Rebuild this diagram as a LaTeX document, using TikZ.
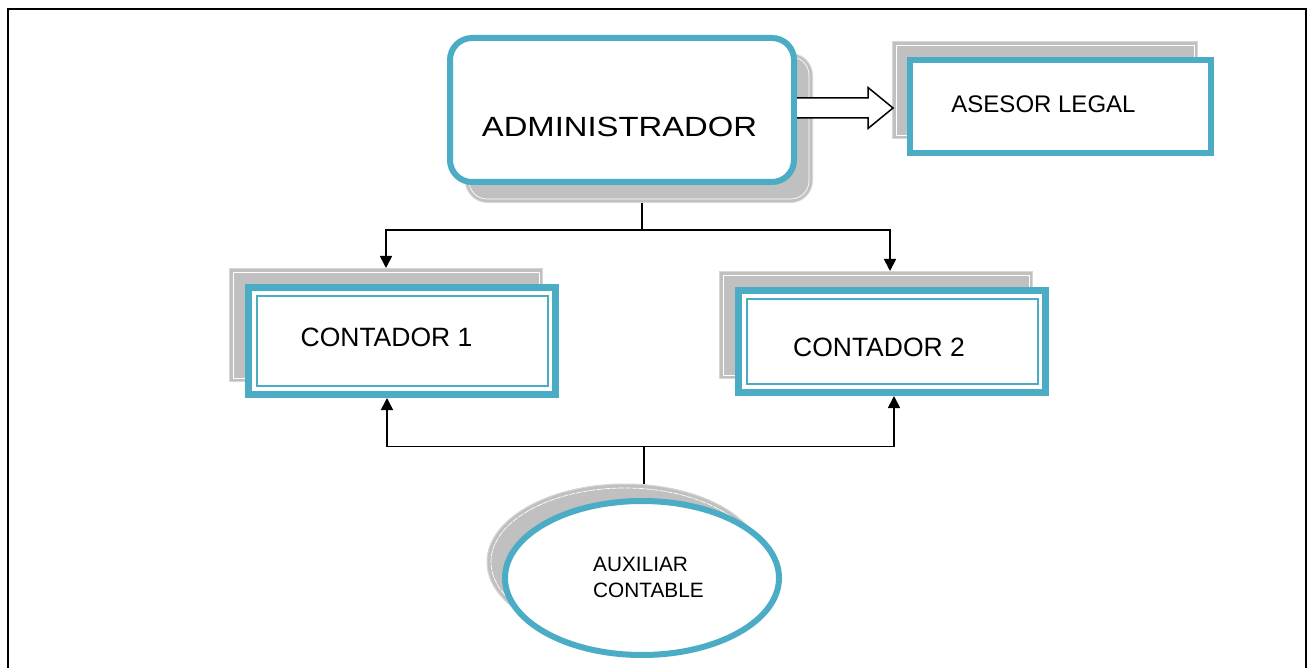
\documentclass[tikz,border=0pt]{standalone}
\usepackage{fontspec}
\usepackage{graphicx}
\setmainfont{Liberation Sans}
\usetikzlibrary{arrows.meta,calc,shapes.geometric}
\definecolor{accent}{HTML}{4BACC6}
\definecolor{shade}{HTML}{C0C0C0}
\definecolor{shadeedge}{HTML}{D6D6D6}

\tikzset{
  shadowbox/.style={draw=shadeedge, fill=shade, line width=1pt, inner sep=0pt},
  shadowline/.style={draw=white, line width=0.7pt},
  mainbox/.style={draw=accent, fill=white, line width=6pt, inner sep=0pt},
  countbox/.style={draw=accent, fill=white, line width=7pt, inner sep=0pt},
  innerline/.style={draw=accent, line width=2pt},
  label/.style={inner sep=0pt, font=\fontsize{26.5}{30}\selectfont},
  conn/.style={line width=1.7pt, -{Triangle[length=12pt,width=12pt]}},
  plain/.style={line width=1.7pt},
  blockarrow/.style={draw=black, fill=white, line width=1.5pt, line join=miter}
}

\begin{document}
\begin{tikzpicture}[x=1pt,y=-1pt]
\useasboundingbox (0,0) rectangle (1314,668);

% page frame
\draw[line width=2pt] (8,9.5) rectangle (1306,720);

% ---------- ADMINISTRADOR ----------
\node[shadowbox, rounded corners=22pt, minimum width=347pt, minimum height=149pt] (adminsh) at (639,128) {};
\draw[shadowline, rounded corners=18pt] ($(adminsh.north west)+(4,4)$) rectangle ($(adminsh.south east)+(-4,-4)$);
\node[mainbox, rounded corners=22pt, minimum width=344pt, minimum height=144pt] (admin) at (622,110) {};
\node[inner sep=0pt, font=\fontsize{27.8}{30}\selectfont] (admintxt) at (619.5,127) {\scalebox{1.18}[1]{ADMINISTRADOR}};

% ---------- ASESOR LEGAL ----------
\node[shadowbox, minimum width=305pt, minimum height=97pt] (asesorsh) at (1045,90) {};
\draw[shadowline] ($(asesorsh.north west)+(4,4)$) rectangle ($(asesorsh.south east)+(-4,-4)$);
\node[mainbox, minimum width=301pt, minimum height=93pt] (asesor) at (1060.5,106.5) {};
\node[label, font=\fontsize{24}{28}\selectfont] (asesortxt) at (1043.5,104) {ASESOR LEGAL};

% block arrow from ADMINISTRADOR to ASESOR LEGAL
\coordinate (ba) at ($(admin.east)+(0,-2)$);
\draw[blockarrow] ($(ba)+(0,-10)$) -- ($(ba)+(71,-10)$) -- ($(ba)+(71,-20.5)$)
  -- ($(asesorsh.west |- ba)+(1,0)$) -- ($(ba)+(71,20.5)$) -- ($(ba)+(71,10)$) -- ($(ba)+(0,10)$);

% ---------- CONTADOR 1 ----------
\node[shadowbox, minimum width=313pt, minimum height=113pt] (c1sh) at (386,325) {};
\draw[shadowline] ($(c1sh.north west)+(4,4)$) rectangle ($(c1sh.south east)+(-4,-4)$);
\node[countbox, minimum width=307pt, minimum height=107pt] (c1) at (402,341) {};
\draw[innerline] ($(c1.north west)+(11.5,12)$) rectangle ($(c1.south east)+(-11.5,-12)$);
\node[label] (c1txt) at (386.5,337.5) {CONTADOR 1};

% ---------- CONTADOR 2 ----------
\node[shadowbox, minimum width=313pt, minimum height=107pt] (c2sh) at (876,325) {};
\draw[shadowline] ($(c2sh.north west)+(4,4)$) rectangle ($(c2sh.south east)+(-4,-4)$);
\node[countbox, minimum width=307pt, minimum height=102pt] (c2) at (892,341.5) {};
\draw[innerline] ($(c2.north west)+(11.5,12)$) rectangle ($(c2.south east)+(-11.5,-12)$);
\node[label] (c2txt) at (879,347) {CONTADOR 2};

% ---------- AUXILIAR CONTABLE ----------
\node[ellipse, shadowbox, minimum width=276pt, minimum height=156pt] (auxsh) at (625,562) {};
\draw[shadowline, dash pattern=on 6pt off 1pt] (625,562) ellipse [x radius=134pt, y radius=74pt];
\node[ellipse, mainbox, minimum width=274pt, minimum height=154pt] (aux) at (642,578) {};
\node[inner sep=0pt, align=left, font=\fontsize{20.8}{26}\selectfont] (auxtxt) at (648.5,577) {AUXILIAR\\CONTABLE};

% ---------- connectors ----------
\coordinate (jtop) at (642,230);
\draw[plain] (jtop |- adminsh.south) -- (jtop);
\draw[conn] (jtop) -| (c1sh.north);
\draw[conn] (jtop) -| ($(c2sh.north)+(14,0)$);

\coordinate (jbot) at (644,446.5);
\draw[plain] (jbot |- auxsh.north) -- (jbot);
\draw[conn] (jbot) -| ($(c1.south)+(-15,0)$);
\draw[conn] (jbot) -| ($(c2.south)+(2,0)$);
\end{tikzpicture}
\end{document}
